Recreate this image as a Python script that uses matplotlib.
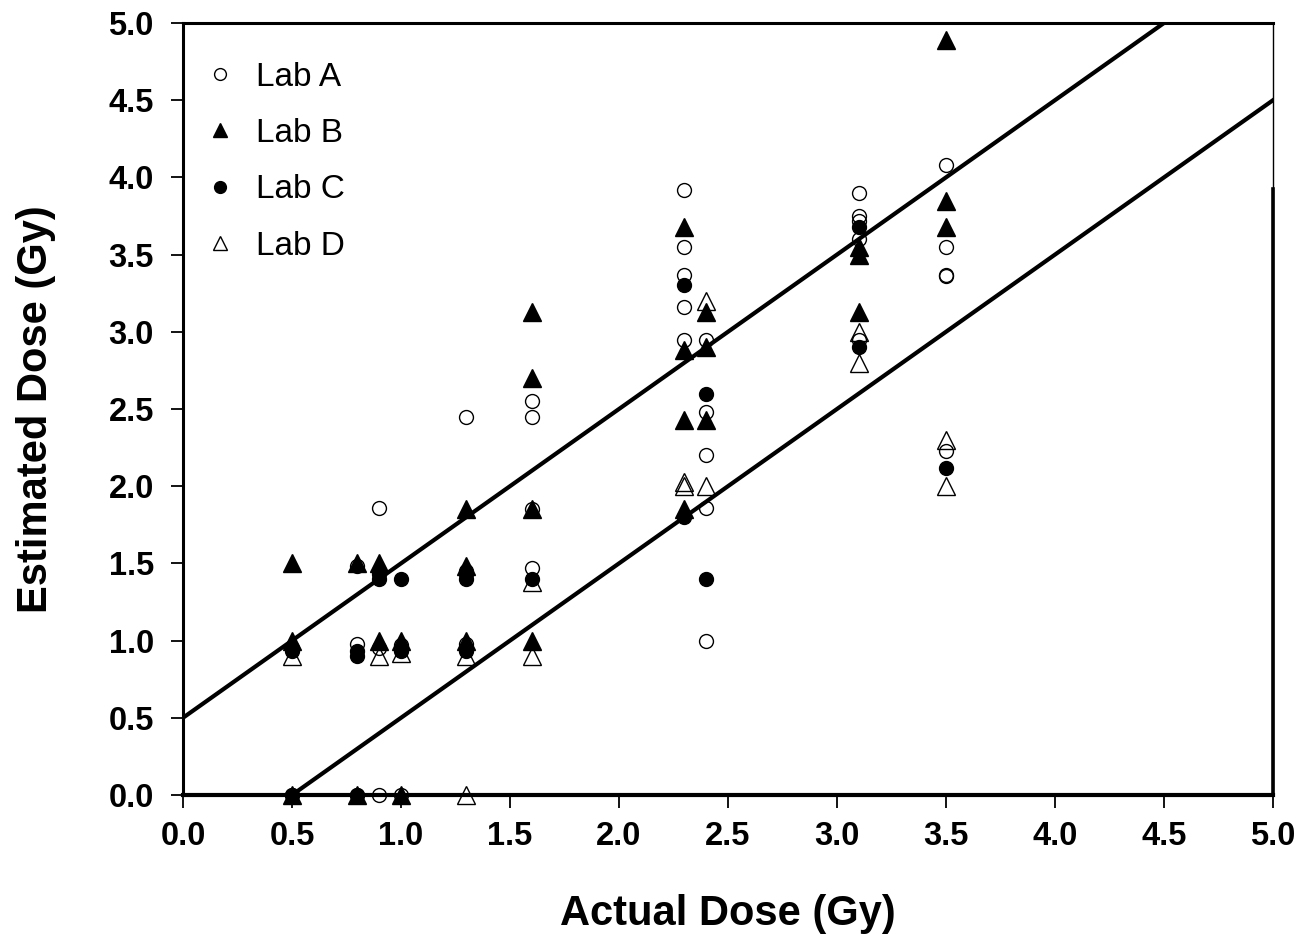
import matplotlib
matplotlib.use("Agg")
import matplotlib.pyplot as plt

plt.rcParams['font.family'] = ['Liberation Sans', 'DejaVu Sans']

# Actual dose (Gy) vs estimated dose (Gy) reported by each laboratory
lab_a_x = [0.5, 0.5, 0.8, 0.8, 0.8, 0.9, 0.9, 0.9, 0.9, 1.0, 1.0,
           1.3, 1.3, 1.3, 1.6, 1.6, 1.6, 1.6,
           2.3, 2.3, 2.3, 2.3, 2.3, 2.4, 2.4, 2.4, 2.4, 2.4,
           3.1, 3.1, 3.1, 3.1, 3.1, 3.5, 3.5, 3.5, 3.5, 3.5]
lab_a_y = [0.95, 0.0, 1.48, 0.98, 0.0, 1.86, 1.45, 0.95, 0.0, 0.97, 0.0,
           2.45, 1.45, 0.98, 2.55, 2.45, 1.85, 1.47,
           3.92, 3.55, 3.37, 3.16, 2.95, 2.95, 2.48, 2.20, 1.86, 1.00,
           3.90, 3.75, 3.72, 3.60, 2.95, 4.08, 3.55, 3.37, 3.36, 2.23]

lab_b_x = [0.5, 0.5, 0.5, 0.8, 0.8, 0.9, 0.9, 1.0, 1.0,
           1.3, 1.3, 1.3, 1.6, 1.6, 1.6, 1.6,
           2.3, 2.3, 2.3, 2.3, 2.4, 2.4, 2.4,
           3.1, 3.1, 3.1, 3.5, 3.5, 3.5]
lab_b_y = [1.50, 1.00, 0.0, 1.50, 0.0, 1.50, 1.00, 1.00, 0.0,
           1.85, 1.48, 1.00, 3.13, 2.70, 1.85, 1.00,
           3.68, 2.88, 2.43, 1.85, 3.13, 2.90, 2.43,
           3.55, 3.50, 3.13, 4.89, 3.85, 3.68]

lab_c_x = [0.5, 0.5, 0.8, 0.8, 0.8, 0.9, 0.9, 1.0, 1.0,
           1.3, 1.3, 1.3, 1.6, 2.3, 2.3, 2.4, 2.4, 3.1, 3.1, 3.5]
lab_c_y = [0.93, 0.0, 0.93, 0.90, 0.0, 1.43, 1.40, 1.40, 0.93,
           1.43, 1.40, 0.93, 1.40, 3.30, 1.80, 2.60, 1.40, 3.68, 2.90, 2.12]

lab_d_x = [0.5, 0.9, 1.0, 1.3, 1.3, 1.6, 1.6, 2.3, 2.3, 2.4, 2.4,
           3.1, 3.1, 3.5, 3.5]
lab_d_y = [0.90, 0.90, 0.92, 0.90, 0.0, 1.38, 0.90, 2.03, 2.00, 3.20, 2.00,
           3.00, 2.80, 2.30, 2.00]

# Reference band: estimate within +/- 0.5 Gy of the actual dose
band_x = [0.0, 5.0]
band_offset = 0.5

fig = plt.figure(figsize=(13.05, 9.34), dpi=100)
ax = fig.add_axes([0.1402, 0.1488, 0.8353, 0.8266])

ax.plot(band_x, [x + band_offset for x in band_x], color='black', lw=3, zorder=2)
ax.plot(band_x, [x - band_offset for x in band_x], color='black', lw=3, zorder=2)

ms_c = 10
ms_t = 12.5
ax.plot(lab_b_x, lab_b_y, linestyle='none', marker='^', ms=ms_t,
        mfc='black', mec='black', mew=1, zorder=3, label='Lab B', clip_on=False)
ax.plot(lab_c_x, lab_c_y, linestyle='none', marker='o', ms=ms_c,
        mfc='black', mec='black', mew=1, zorder=3, label='Lab C', clip_on=False)
ax.plot(lab_a_x, lab_a_y, linestyle='none', marker='o', ms=ms_c,
        mfc='none', mec='black', mew=1, zorder=4, label='Lab A', clip_on=False)
ax.plot(lab_d_x, lab_d_y, linestyle='none', marker='^', ms=ms_t,
        mfc='none', mec='black', mew=1, zorder=4, label='Lab D', clip_on=False)

ax.set_xlim(0, 5)
ax.set_ylim(0, 5)
ticks = [0.0, 0.5, 1.0, 1.5, 2.0, 2.5, 3.0, 3.5, 4.0, 4.5, 5.0]
ax.set_xticks(ticks)
ax.set_yticks(ticks)
ax.set_xticklabels([f'{t:.1f}' for t in ticks])
ax.set_yticklabels([f'{t:.1f}' for t in ticks])
ax.tick_params(direction='out', length=9, width=1.3, labelsize=23.5)
ax.tick_params(axis='y', pad=12)
ax.tick_params(axis='x', pad=10)
for lab in ax.get_xticklabels() + ax.get_yticklabels():
    lab.set_fontweight('bold')

ax.spines['left'].set_linewidth(2.2)
ax.spines['bottom'].set_linewidth(3.0)
ax.spines['top'].set_linewidth(2.2)
ax.spines['right'].set_linewidth(1.0)
# heavier lower part of the right frame
ax.plot([1, 1], [0, 0.785], transform=ax.transAxes, color='black', lw=2.6,
        clip_on=False, zorder=5)

ax.set_xlabel('Actual Dose (Gy)', fontsize=30, fontweight='bold', labelpad=30)
ax.set_ylabel('Estimated Dose (Gy)', fontsize=30, fontweight='bold', labelpad=38)

handles, labels = ax.get_legend_handles_labels()
order = [labels.index(n) for n in ['Lab A', 'Lab B', 'Lab C', 'Lab D']]
leg = ax.legend([handles[i] for i in order], [labels[i] for i in order],
                loc='upper left', frameon=False, fontsize=24, markerscale=0.85,
                handlelength=0.8, handletextpad=0.7, labelspacing=0.76,
                borderaxespad=0.3, bbox_to_anchor=(0.0, 0.98))

fig.savefig('out.png', dpi=100, facecolor='white')
